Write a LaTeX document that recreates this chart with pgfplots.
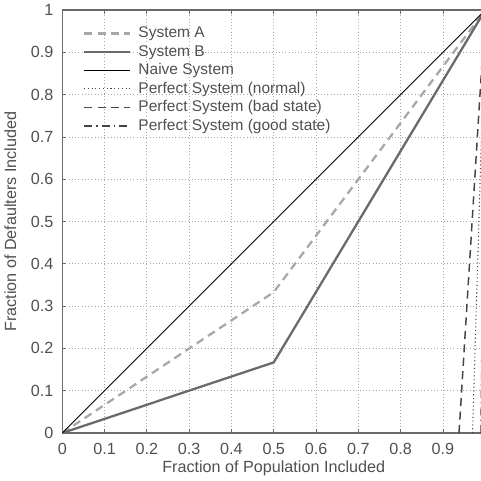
\documentclass[border=0pt]{standalone}
\usepackage{pgfplots}
\pgfplotsset{compat=1.18}
\usepackage{fontspec}
\setmainfont{Liberation Sans}
\definecolor{txt}{HTML}{505050}
\definecolor{frame}{HTML}{6A6A6A}
\definecolor{sysA}{HTML}{A8A8A8}
\definecolor{sysB}{HTML}{6A6A6A}
\definecolor{perf}{HTML}{444444}
\begin{document}
\begin{tikzpicture}
\begin{axis}[
  scale only axis,
  width=314pt, height=314pt,
  xmin=0, xmax=1, ymin=0, ymax=1,
  xtick={0,0.1,...,1.01}, ytick={0,0.1,...,1.01},
  xticklabels={0,0.1,0.2,0.3,0.4,0.5,0.6,0.7,0.8,0.9,},
  yticklabels={0,0.1,0.2,0.3,0.4,0.5,0.6,0.7,0.8,0.9,1},
  /pgf/number format/assume math mode=true,
  tick align=inside, tick pos=both,
  major tick length=3pt,
  tick style={color=frame, line width=0.6pt},
  axis line style={color=frame, line width=0.9pt},
  grid=major,
  grid style={dotted, color=gray!70, line width=0.6pt},
  font=\fontsize{12}{14}\selectfont,
  tick label style={color=txt, font=\fontsize{12}{14}\selectfont},
  xticklabel style={yshift=-4pt},
  yticklabel style={xshift=-3pt},
  label style={color=txt},
  xlabel={Fraction of Population Included},
  ylabel={Fraction of Defaulters Included},
  xlabel style={yshift=2pt},
  ylabel style={yshift=4pt},
  legend style={at={(0.045,0.97)}, anchor=north west, draw=none,
    fill=white, fill opacity=0, text opacity=1, text=txt,
    font=\fontsize{11.5}{13}\selectfont, row sep=0pt,
    inner sep=1pt,
    /tikz/every odd column/.append style={column sep=0.12cm}},
  legend cell align=left,
  legend image code/.code={\draw[#1] (0cm,0cm) -- (1.2cm,0cm);},
]
  \addplot[sysA, line width=1.7pt, dash pattern=on 6pt off 4pt]
    coordinates {(0,0) (0.5,0.333) (1,1)};
  \addlegendentry{System A}
  \addplot[sysB, line width=1.7pt]
    coordinates {(0,0) (0.5,0.167) (1,1)};
  \addlegendentry{System B}
  \addplot[black, line width=0.7pt]
    coordinates {(0,0) (1,1)};
  \addlegendentry{Naive System}
  \addplot[perf, line width=0.8pt, dotted]
    coordinates {(0.97,0) (1,1)};
  \addlegendentry{Perfect System (normal)}
  \addplot[perf, line width=1.1pt, dash pattern=on 6pt off 4pt]
    coordinates {(0.938,0) (1,1)};
  \addlegendentry{Perfect System (bad state)}
  \addplot[perf, line width=1.1pt, dash pattern=on 6pt off 3pt on 1pt off 3pt]
    coordinates {(0.99,0) (1,1)};
  \addlegendentry{Perfect System (good state)}
  \coordinate (rc) at (axis cs:0.99,1);
\end{axis}
\pgfresetboundingbox
\path (current axis.outer south west) rectangle (rc |- current axis.outer north east);
\end{tikzpicture}
\end{document}
